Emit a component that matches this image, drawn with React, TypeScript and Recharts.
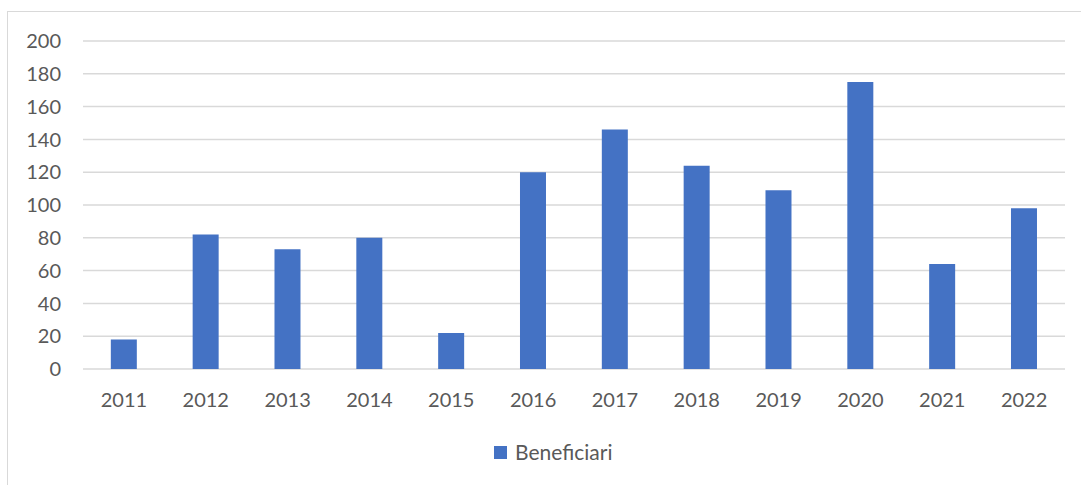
import { BarChart, Bar, XAxis, YAxis, CartesianGrid, Legend } from 'recharts'

const years = ['2011', '2012', '2013', '2014', '2015', '2016', '2017', '2018', '2019', '2020', '2021', '2022']
const beneficiari = [18, 82, 73, 80, 22, 120, 146, 124, 109, 175, 64, 98]
const yTicks = [0, 20, 40, 60, 80, 100, 120, 140, 160, 180, 200]

const data = years.map((year, i) => ({ year, beneficiari: beneficiari[i] }))

const font = 'Lato, "Open Sans", sans-serif'
const labelColor = '#595959'

function LegendContent() {
  return (
    <div style={{ display: 'flex', alignItems: 'center', fontFamily: font, fontSize: 21, color: labelColor, lineHeight: '24px' }}>
      <span style={{ width: 13, height: 13, background: '#4472C4', marginRight: 8, display: 'inline-block' }} />
      <span>Beneficiari</span>
    </div>
  )
}

export default function App() {
  return (
    <div style={{ position: 'absolute', left: 0, top: 0, width: 1081, height: 485, background: '#fff', overflow: 'hidden' }}>
      <div
        style={{
          position: 'absolute',
          left: 7,
          top: 11,
          width: 1100,
          height: 500,
          border: '1px solid #d9d9d9',
          boxSizing: 'border-box',
        }}
      />
      <div style={{ position: 'absolute', left: 0, top: 0 }}>
        <BarChart
          width={1081}
          height={485}
          data={data}
          margin={{ top: 41, right: 16, bottom: 62, left: 0 }}
          barCategoryGap="34%"
        >
          <CartesianGrid vertical={false} stroke="#d9d9d9" strokeWidth={1.5} />
          <XAxis
            dataKey="year"
            height={30}
            axisLine={false}
            tickLine={false}
            tickSize={0}
            tickMargin={24}
            tick={{ fontSize: 20, fill: labelColor, fontFamily: font }}
          />
          <YAxis
            width={83}
            domain={[0, 200]}
            ticks={yTicks}
            axisLine={false}
            tickLine={false}
            tickSize={0}
            tickMargin={22}
            tick={{ fontSize: 20, fill: labelColor, fontFamily: font }}
          />
          <Legend
            content={<LegendContent />}
            wrapperStyle={{ position: 'absolute', left: 494, top: 440, width: 200, height: 24 }}
          />
          <Bar dataKey="beneficiari" name="Beneficiari" fill="#4472C4" isAnimationActive={false} />
        </BarChart>
      </div>
    </div>
  )
}
